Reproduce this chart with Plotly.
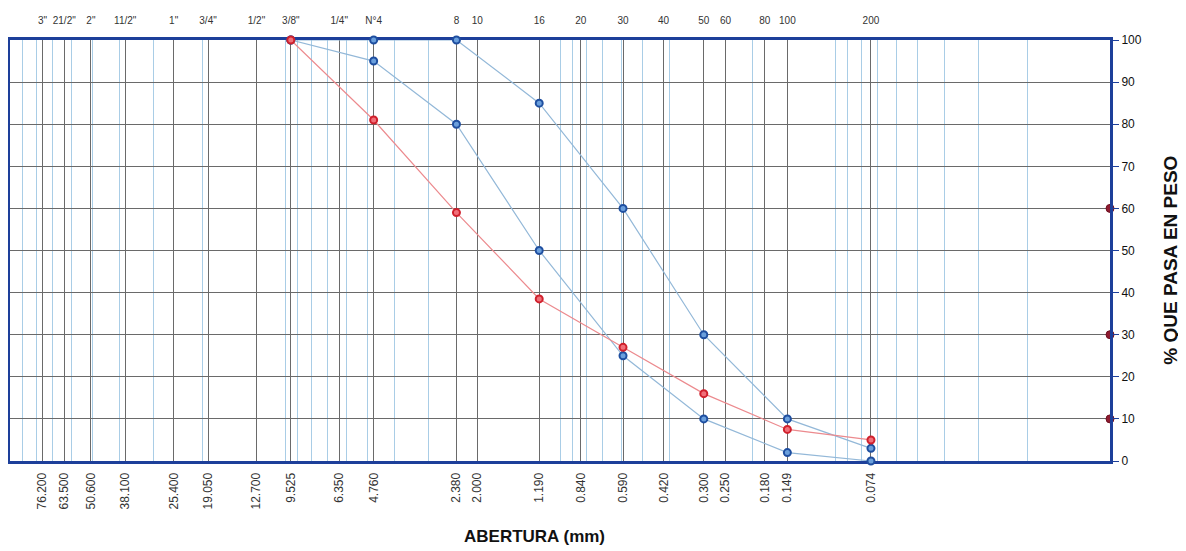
import plotly.graph_objects as go

# Sieve data
sieve_names = ['3"', '21/2"', '2"', '11/2"', '1"', '3/4"', '1/2"', '3/8"', '1/4"', 'N°4',
               '8', '10', '16', '20', '30', '40', '50', '60', '80', '100', '200']
sieve_mm = [76.2, 63.5, 50.8, 38.1, 25.4, 19.05, 12.7, 9.525, 6.35, 4.76,
            2.38, 2.0, 1.19, 0.84, 0.59, 0.42, 0.30, 0.25, 0.18, 0.149, 0.074]
mm_labels = ['76.200', '63.500', '50.600', '38.100', '25.400', '19.050', '12.700', '9.525',
             '6.350', '4.760', '2.380', '2.000', '1.190', '0.840', '0.590', '0.420',
             '0.300', '0.250', '0.180', '0.149', '0.074']

# Curves
x_curve = [9.525, 4.76, 2.38, 1.19, 0.59, 0.30, 0.149, 0.074]
upper_limit = [100, 100, 100, 85, 60, 30, 10, 3]
lower_limit = [100, 95, 80, 50, 25, 10, 2, 0]
sample = [100, 81, 59, 38.5, 27, 16, 7.5, 5]

# D60 / D30 / D10 markers at right edge
d_x = [0.01, 0.01, 0.01]
d_y = [60, 30, 10]

# Minor log grid
minor_vals = []
for e in [-2, -1, 0, 1]:
    for m in range(1, 10):
        minor_vals.append(m * 10 ** e)
minor_vals.append(100)

fig = go.Figure()

blue_line = dict(color='#93b8d8', width=1.2)
blue_marker = dict(size=7, color='#6a9fdc', line=dict(color='#1f4fa0', width=2))

fig.add_trace(go.Scatter(x=x_curve, y=upper_limit, mode='lines+markers', line=blue_line,
                         marker=blue_marker, cliponaxis=False, showlegend=False))
fig.add_trace(go.Scatter(x=x_curve, y=lower_limit, mode='lines+markers', line=blue_line,
                         marker=blue_marker, cliponaxis=False, showlegend=False))
fig.add_trace(go.Scatter(x=x_curve, y=sample, mode='lines+markers',
                         line=dict(color='#ec8a8e', width=1.2),
                         marker=dict(size=7, color='#f0707a', line=dict(color='#d0202c', width=2)),
                         cliponaxis=False, showlegend=False))
fig.add_trace(go.Scatter(x=d_x, y=d_y, mode='markers',
                         marker=dict(size=8, color='#8e1b30', line=dict(color='#6e1020', width=1)),
                         cliponaxis=False, showlegend=False))
# invisible trace for top axis
fig.add_trace(go.Scatter(x=[1], y=[50], xaxis='x2', mode='markers', opacity=0,
                         hoverinfo='skip', showlegend=False))

font = dict(family='Liberation Sans, Arial, sans-serif', size=11, color='#222')
axis_line = dict(showline=True, linecolor='#1d3f9a', linewidth=3, mirror=True)

fig.update_layout(
    width=1178, height=543,
    margin=dict(l=2, r=76, t=32, b=90),
    paper_bgcolor='white', plot_bgcolor='white',
    font=font,
    xaxis=dict(type='log', range=[2, -2], tickmode='array', tickvals=sieve_mm,
               ticktext=mm_labels, tickangle=-90, showgrid=True, gridcolor='#6a6a6a',
               gridwidth=1, zeroline=False, ticks='outside', ticklen=4,
               tickcolor='rgba(0,0,0,0)', tickfont=dict(size=12, color='#333'),
               minor=dict(tickmode='array', tickvals=minor_vals, showgrid=True,
                          gridcolor='#a9cde6', gridwidth=1, ticks=''),
               automargin=False, layer='below traces', **axis_line),
    xaxis2=dict(type='log', range=[2, -2], overlaying='x', side='top', tickmode='array',
                tickvals=sieve_mm, ticktext=sieve_names, showgrid=False, zeroline=False,
                ticks='outside', ticklen=11, tickcolor='rgba(0,0,0,0)',
                tickfont=dict(size=10, color='#333'), showline=False, automargin=False),
    yaxis=dict(side='right', range=[0, 100], dtick=10, showgrid=True, gridcolor='#6a6a6a',
               gridwidth=1, zeroline=False, ticks='outside', ticklen=6, tickcolor='#1d3f9a',
               tickfont=dict(size=12, color='#111'),
               automargin=False, **axis_line),
    annotations=[
        dict(text='<b>ABERTURA (mm)</b>', xref='paper', yref='paper', x=0.477, y=-0.18,
             xanchor='center', yanchor='middle', showarrow=False,
             font=dict(size=17, color='#111')),
        dict(text='<b>% QUE PASA EN PESO</b>', xref='paper', yref='paper', x=1.055, y=0.477,
             xanchor='center', yanchor='middle', showarrow=False, textangle=-90,
             font=dict(size=19, color='#111')),
    ],
)

fig.write_html('out.html')
